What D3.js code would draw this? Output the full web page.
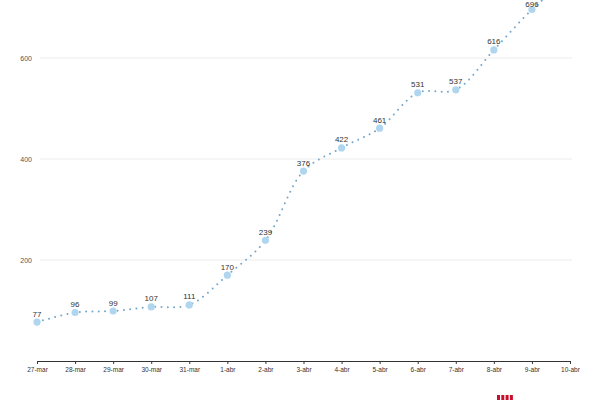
<!DOCTYPE html>
<html><head><meta charset="utf-8">
<script src="https://cdn.jsdelivr.net/npm/d3@7"></script>
<style>body{margin:0;background:#fff}svg{display:block}</style>
</head><body>
<svg id="c" width="600" height="400"></svg>
<script>
const dates = ["27-mar","28-mar","29-mar","30-mar","31-mar","1-abr","2-abr","3-abr","4-abr","5-abr","6-abr","7-abr","8-abr","9-abr","10-abr"];
const values = [77,96,99,107,111,170,239,376,422,461,531,537,616,696,760];
const yTicks = [200,400,600];

const svg = d3.select("#c");
const x = d3.scalePoint().domain(dates).range([37,570]);
const y = d3.scaleLinear().domain([0,200]).range([361,260]);

const data = dates.map((d,i)=>({d, v: values[i]}));

// grid
svg.append("g").selectAll("line").data(yTicks).join("line")
  .attr("x1",40).attr("x2",572)
  .attr("y1",d=>y(d)).attr("y2",d=>y(d))
  .attr("stroke","#ececec").attr("stroke-width",1);
svg.append("g").selectAll("text").data(yTicks).join("text")
  .attr("x",32).attr("y",d=>y(d)+2.5).attr("text-anchor","end")
  .attr("font-family","Liberation Sans, Arial, sans-serif").attr("font-size",7)
  .attr("fill","#555").text(d=>d);

// x axis
const ax = svg.append("g").attr("transform","translate(0,361)")
  .call(d3.axisBottom(x).tickSize(3).tickPadding(3));
ax.select(".domain").attr("stroke","#333").attr("d","M37,0.5H570.5");
ax.selectAll(".tick line").attr("stroke","#333");
ax.selectAll("text").attr("font-family","Liberation Sans, Arial, sans-serif")
  .attr("font-size",6.5).attr("fill","#333");

// line
const line = d3.line().x(d=>x(d.d)).y(d=>y(d.v)).curve(d3.curveCatmullRom.alpha(0.5));
svg.append("path").datum(data).attr("d",line)
  .attr("fill","none").attr("stroke","#72a6cc").attr("stroke-width",2)
  .attr("stroke-linecap","round").attr("stroke-dasharray","0,6.3");

// points
const shown = data.slice(0,14);
svg.append("g").selectAll("circle").data(shown).join("circle")
  .attr("cx",d=>x(d.d)).attr("cy",d=>y(d.v)).attr("r",3.6)
  .attr("fill","#b0d6ef");
svg.append("g").selectAll("text").data(shown).join("text")
  .attr("x",d=>x(d.d)).attr("y",d=>Math.max(y(d.v)-5.5, 6.5)).attr("text-anchor","middle")
  .attr("font-family","Liberation Sans, Arial, sans-serif").attr("font-size",8)
  .attr("fill","#333").text(d=>d.v);

// logo marks
svg.append("g").selectAll("rect").data([0,1,2,3]).join("rect")
  .attr("x",d=>497+d*4.3).attr("y",395).attr("width",3).attr("height",5)
  .attr("fill","#c8102e");
</script>
</body></html>
